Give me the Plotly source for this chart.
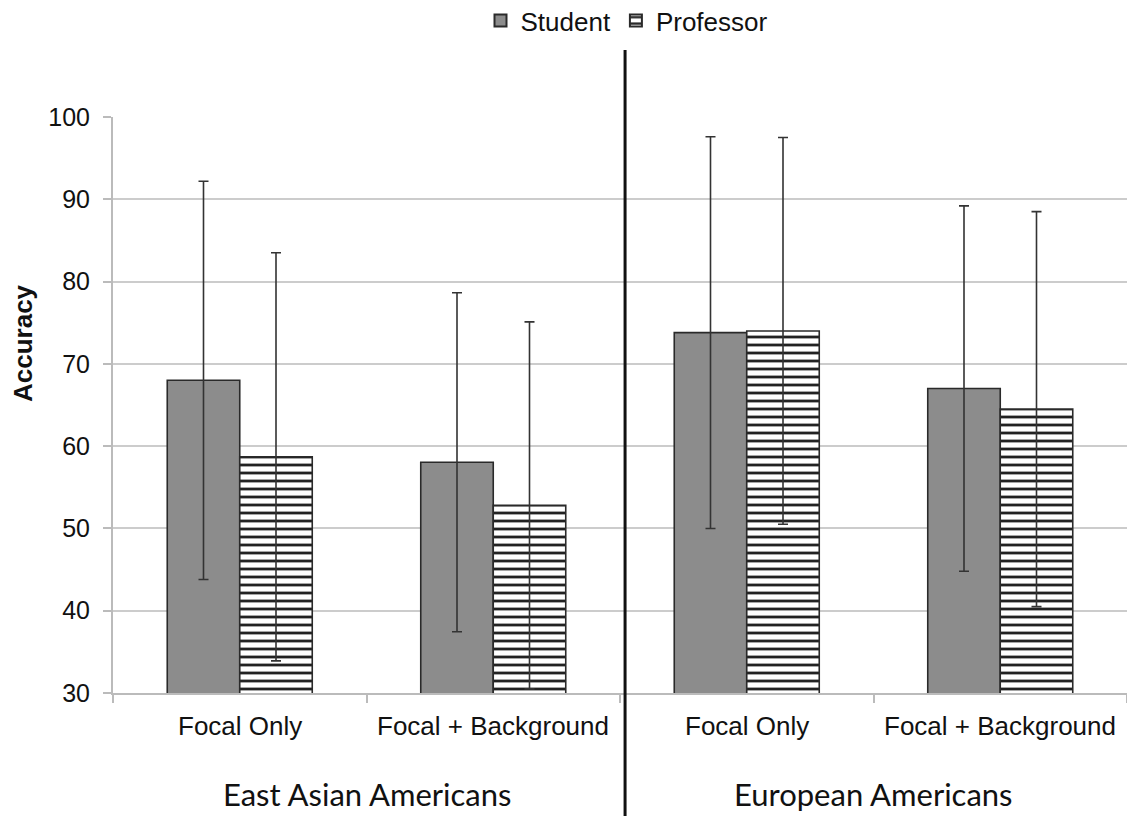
import plotly.graph_objects as go

# Condition labels along the x axis and the two participant groups
conditions = ["Focal Only", "Focal + Background", "Focal Only", "Focal + Background"]
groups = ["East Asian Americans", "European Americans"]

# Mean accuracy and standard deviation per condition
student_mean = [68.0, 58.05, 73.8, 67.0]
student_sd = [24.2, 20.6, 23.8, 22.2]
professor_mean = [58.7, 52.8, 74.0, 64.5]
professor_sd = [24.8, 22.3, 23.5, 24.0]

y_ticks = [30, 40, 50, 60, 70, 80, 90, 100]

x_pos = list(range(len(conditions)))
boundaries = [i - 0.5 for i in range(len(conditions) + 1)]

W, H = 1127, 816
M_L, M_R, M_T, M_B = 113, 0, 117, 123
plot_w = W - M_L - M_R
plot_h = H - M_T - M_B

def py(pixel_y):
    # paper-y for a pixel row measured from the top of the page
    return (H - M_B - pixel_y) / plot_h

def px(pixel_x):
    # paper-x for a pixel column measured from the left of the page
    return (pixel_x - M_L) / plot_w

TEXT = "#111111"
SANS = "Liberation Sans, Arial"

fig = go.Figure()

fig.add_trace(go.Bar(
    name="Student",
    x=x_pos,
    y=student_mean,
    marker=dict(color="#8c8c8c", line=dict(color="#2a2a2a", width=1.6)),
    error_y=dict(type="data", array=student_sd, visible=True,
                 color="#333333", thickness=1.6, width=5),
))

fig.add_trace(go.Bar(
    name="Professor",
    x=x_pos,
    y=professor_mean,
    marker=dict(
        color="white",
        line=dict(color="#2a2a2a", width=1.6),
        pattern=dict(shape="-", fgcolor="#222222", bgcolor="white",
                     size=8, solidity=0.35, fillmode="replace"),
    ),
    error_y=dict(type="data", array=professor_sd, visible=True,
                 color="#333333", thickness=1.6, width=5),
))

annotations = []
for xi, label in zip(x_pos, conditions):
    annotations.append(dict(
        x=xi, y=py(726), xref="x", yref="paper", text=label,
        showarrow=False, xanchor="center", yanchor="middle",
        font=dict(family=SANS, size=26, color=TEXT),
    ))
for gi, label in enumerate(groups):
    annotations.append(dict(
        x=2 * gi + 0.5, y=py(794), xref="x", yref="paper", text=label,
        showarrow=False, xanchor="center", yanchor="middle",
        font=dict(family="Lato, Open Sans", size=31, color=TEXT),
    ))
annotations.append(dict(
    x=px(23), y=py(343), xref="paper", yref="paper", text="<b>Accuracy</b>",
    textangle=-90, showarrow=False, xanchor="center", yanchor="middle",
    font=dict(family=SANS, size=26, color=TEXT),
))

fig.update_layout(
    width=W, height=H,
    margin=dict(l=M_L, r=M_R, t=M_T, b=M_B, autoexpand=False),
    paper_bgcolor="white",
    plot_bgcolor="white",
    barmode="group",
    bargap=0.428,
    bargroupgap=0,
    showlegend=True,
    legend=dict(
        orientation="h", x=px(627), xanchor="center", y=py(-3), yanchor="top",
        font=dict(family=SANS, size=26, color=TEXT),
        itemwidth=30, tracegroupgap=0, itemsizing="constant",
    ),
    xaxis=dict(
        range=[-0.5, 3.5],
        tickmode="array", tickvals=boundaries, ticktext=[""] * len(boundaries),
        ticks="outside", ticklen=8, tickwidth=2, tickcolor="#bbbbbb",
        showline=True, linecolor="#bbbbbb", linewidth=2,
        showgrid=False, zeroline=False, fixedrange=True,
    ),
    yaxis=dict(
        range=[30, 100],
        tickmode="array", tickvals=y_ticks,
        ticks="outside", ticklen=8, tickwidth=2, tickcolor="#bbbbbb",
        ticklabelstandoff=8,
        showline=True, linecolor="#bbbbbb", linewidth=2,
        showgrid=True, gridcolor="#cccccc", gridwidth=2,
        zeroline=False,
        tickfont=dict(family=SANS, size=25, color=TEXT),
    ),
    annotations=annotations,
    shapes=[dict(
        type="line", xref="x", yref="paper",
        x0=1.52, x1=1.52, y0=py(50), y1=py(H),
        line=dict(color="#111111", width=3),
    )],
)

fig.write_html("out.html")
